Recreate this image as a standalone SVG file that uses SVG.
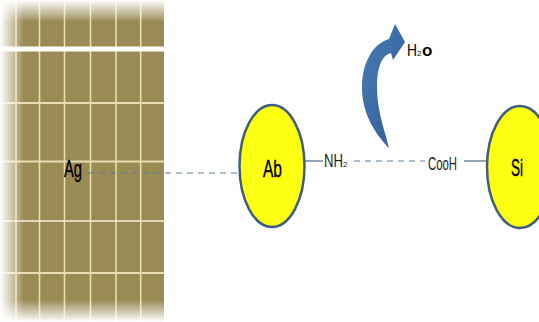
<svg xmlns="http://www.w3.org/2000/svg" width="539" height="322" viewBox="0 0 539 322">
<style>
.t{font-family:"Liberation Sans Narrow","Liberation Sans",Arial,sans-serif;fill:#000}
.lbl{font-size:18px;fill:#222}
.big{font-size:24px;stroke:#000;stroke-width:0.4}
.grid{stroke:#E8DEB2;stroke-width:1.6}
.node{fill:#FFFF12;stroke:#3E5D80;stroke-width:2.5}
.dash{stroke:#5A7FA2;stroke-width:1.2;stroke-dasharray:6 5;fill:none}
.solid{stroke:#4A6A8E;stroke-width:1.2;fill:none}
</style>
<defs>
<linearGradient id="fl" x1="0" y1="0" x2="1" y2="0">
<stop offset="0" stop-color="#fff" stop-opacity="1"/>
<stop offset="1" stop-color="#fff" stop-opacity="0"/>
</linearGradient>
<linearGradient id="ft" x1="0" y1="0" x2="0" y2="1">
<stop offset="0" stop-color="#fff" stop-opacity="1"/>
<stop offset="1" stop-color="#fff" stop-opacity="0"/>
</linearGradient>
<linearGradient id="fb" x1="0" y1="1" x2="0" y2="0">
<stop offset="0" stop-color="#fff" stop-opacity="1"/>
<stop offset="1" stop-color="#fff" stop-opacity="0"/>
</linearGradient>
<linearGradient id="ag" x1="0" y1="0" x2="1" y2="1">
<stop offset="0" stop-color="#4A7DB8"/>
<stop offset="1" stop-color="#2E5B92"/>
</linearGradient>
</defs>

<g id="ag-panel">
<rect x="0" y="0" width="164" height="322" fill="#9A8B55"/>
<g class="grid">
<line x1="16" y1="0" x2="16" y2="322"/>
<line x1="39.5" y1="0" x2="39.5" y2="322"/>
<line x1="64.5" y1="0" x2="64.5" y2="322"/>
<line x1="90.5" y1="0" x2="90.5" y2="322"/>
<line x1="116" y1="0" x2="116" y2="322"/>
<line x1="140.7" y1="0" x2="140.7" y2="322"/>
<line x1="0" y1="103" x2="164" y2="103" stroke-width="2"/>
<line x1="0" y1="161.5" x2="164" y2="161.5" stroke-width="2"/>
<line x1="0" y1="221" x2="164" y2="221" stroke="#F4EFD8" stroke-width="1.6"/>
<line x1="0" y1="273" x2="164" y2="273" stroke-width="2"/>
</g>
<rect x="0" y="46.5" width="164" height="5" fill="#fff"/>
<rect x="0" y="0" width="164" height="22" fill="url(#ft)"/>
<rect x="0" y="300" width="164" height="22" fill="url(#fb)"/>
<rect x="0" y="0" width="24" height="322" fill="url(#fl)"/>
<text class="t big" x="64" y="177" textLength="18" lengthAdjust="spacingAndGlyphs">Ag</text>
</g>

<g id="connectors">
<line class="dash" x1="88" y1="173" x2="240" y2="173"/>
<line class="solid" x1="305" y1="161" x2="323" y2="161"/>
<line class="dash" x1="354" y1="161" x2="425" y2="161"/>
<line class="solid" x1="464" y1="161" x2="487" y2="161"/>
</g>

<g id="ab">
<ellipse class="node" cx="272" cy="166" rx="32.5" ry="61"/>
<text class="t big" x="263" y="177" textLength="19" lengthAdjust="spacingAndGlyphs">Ab</text>
</g>

<g id="nh2">
<text class="t lbl" x="324" y="167"><tspan textLength="19" lengthAdjust="spacingAndGlyphs">NH</tspan><tspan font-size="8">2</tspan></text>
</g>

<g id="cooh">
<text class="t lbl" x="428" y="170" textLength="29" lengthAdjust="spacingAndGlyphs">CooH</text>
</g>

<g id="si">
<ellipse class="node" cx="520" cy="167" rx="33" ry="61"/>
<text class="t big" x="511" y="176" textLength="12" lengthAdjust="spacingAndGlyphs">Si</text>
</g>

<g id="h2o">
<path d="M389,148 C377,136 362,115 362,88 C362,62 373,44 389,39 L395,24 L405,42 L393,60 L391,53 C382,55 377,67 377,87 C377,110 384,128 389,148 Z" fill="url(#ag)"/>
<text class="t" x="407" y="56" font-size="17"><tspan textLength="10" lengthAdjust="spacingAndGlyphs">H</tspan><tspan font-size="8">2</tspan><tspan font-weight="bold" dx="0.5">o</tspan></text>
</g>
</svg>
